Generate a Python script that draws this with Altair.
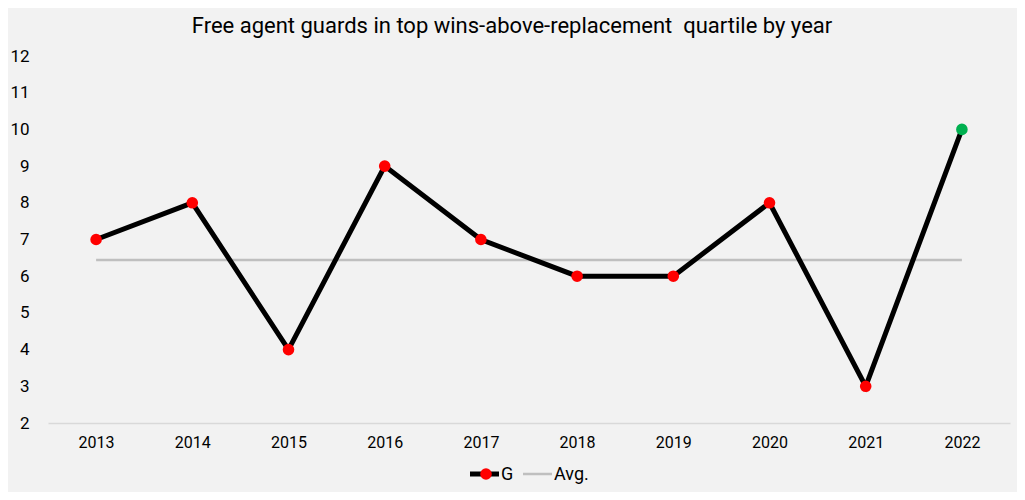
import altair as alt
import pandas as pd

years = ["2013", "2014", "2015", "2016", "2017", "2018", "2019", "2020", "2021", "2022"]
g_values = [7, 8, 4, 9, 7, 6, 6, 8, 3, 10]
avg_value = 6.44
point_colors = ["#ff0000"] * 9 + ["#00b050"]

df = pd.DataFrame({"year": years, "G": g_values, "Avg": [avg_value] * len(years), "pc": point_colors})

FONT = "Roboto"
x_enc = alt.X("year:O", scale=alt.Scale(type="point", padding=0.5),
              axis=alt.Axis(title=None, labelAngle=0, labelFontSize=16, labelColor="#000000",
                            labelFont=FONT, ticks=False, domainColor="#d9d9d9", domainWidth=1.5,
                            labelPadding=11, grid=False))
y_scale = alt.Scale(domain=[2, 12], nice=False, zero=False)
y_axis = alt.Axis(title=None, values=list(range(2, 13)), labelFontSize=17, labelColor="#000000",
                  labelFont=FONT, ticks=False, domain=False, grid=False, labelPadding=19,
                  labelOverlap=False)

base = alt.Chart(df)
avg_line = base.mark_line(color="#bfbfbf", strokeWidth=2.5).encode(
    x=x_enc, y=alt.Y("Avg:Q", scale=y_scale, axis=y_axis))
g_line = base.mark_line(color="#000000", strokeWidth=5).encode(
    x=x_enc, y=alt.Y("G:Q", scale=y_scale, axis=y_axis))
g_pts = base.mark_circle(size=135, opacity=1).encode(
    x=x_enc, y=alt.Y("G:Q", scale=y_scale, axis=y_axis), color=alt.Color("pc:N", scale=None))

# manual legend (positions relative to plot area)
leg_df = pd.DataFrame({"k": [0]})
lb = alt.Chart(leg_df)
leg_g_line = lb.mark_rule(color="#000000", strokeWidth=5).encode(
    x=alt.value(422), x2=alt.value(451), y=alt.value(418))
leg_g_pt = lb.mark_circle(color="#ff0000", size=135, opacity=1).encode(x=alt.value(438), y=alt.value(418))
leg_g_txt = lb.mark_text(text="G", align="left", baseline="middle", fontSize=18, font=FONT, color="#000000").encode(
    x=alt.value(453), y=alt.value(419))
leg_a_line = lb.mark_rule(color="#bfbfbf", strokeWidth=2.5).encode(
    x=alt.value(475), x2=alt.value(504), y=alt.value(418))
leg_a_txt = lb.mark_text(text="Avg.", align="left", baseline="middle", fontSize=18, font=FONT, color="#000000").encode(
    x=alt.value(506), y=alt.value(419))

chart = alt.layer(avg_line, g_line, g_pts, leg_g_line, leg_g_pt, leg_g_txt, leg_a_line, leg_a_txt).properties(
    width=962, height=367,
    title=alt.TitleParams("Free agent guards in top wins-above-replacement\u00a0 quartile by year",
                          fontSize=22, font=FONT, fontWeight="normal", color="#000000",
                          anchor="middle", offset=9, frame="group", dx=-17),
    autosize=alt.AutoSizeParams(type="none"),
    padding={"left": 40, "top": 48, "right": 7, "bottom": 69},
    background="#f2f2f2",
).configure_view(stroke=None)

chart.save("out.html", embed_options={"renderer": "svg", "actions": False})
